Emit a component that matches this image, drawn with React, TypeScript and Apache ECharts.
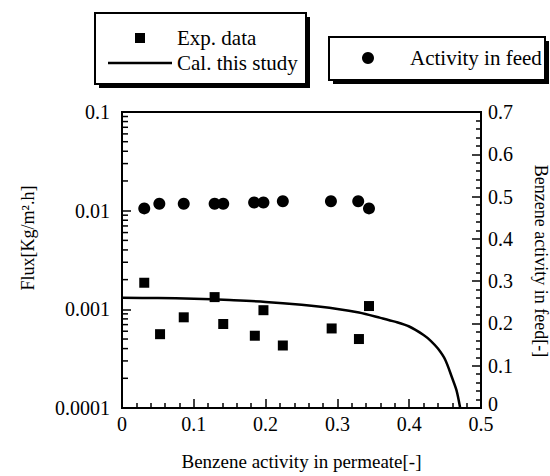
import React, { useEffect, useRef } from "react";
import * as echarts from "echarts";

// Experimental flux (left, log axis)
const expX = [0.031, 0.053, 0.086, 0.129, 0.141, 0.185, 0.197, 0.224, 0.292, 0.33, 0.344];
const expFlux = [0.00186, 0.00056, 0.00083, 0.00133, 0.00071, 0.00054, 0.00098, 0.00043, 0.00064, 0.0005, 0.00108];
// Calculated flux curve
const calX = [0, 0.05, 0.1, 0.15, 0.2, 0.25, 0.3, 0.33, 0.36, 0.38, 0.4, 0.42, 0.43, 0.44, 0.45, 0.46, 0.466, 0.471];
const calFlux = [0.00131, 0.0013, 0.00128, 0.00124, 0.00119, 0.00111, 0.00101, 0.00093, 0.00082, 0.00075, 0.00067, 0.00055, 0.00048, 0.0004, 0.00031, 0.0002, 0.00015, 0.0001];
// Activity in feed (right axis)
const feedX = [0.031, 0.052, 0.086, 0.129, 0.141, 0.184, 0.197, 0.224, 0.291, 0.329, 0.344];
const feedAct = [0.472, 0.483, 0.483, 0.483, 0.483, 0.486, 0.486, 0.489, 0.489, 0.489, 0.472];
// Log-axis minor tick values
const logMinorTicks = [
  0.0002, 0.0003, 0.0004, 0.0005, 0.0006, 0.0007, 0.0008, 0.0009,
  0.002, 0.003, 0.004, 0.005, 0.006, 0.007, 0.008, 0.009,
  0.02, 0.03, 0.04, 0.05, 0.06, 0.07, 0.08, 0.09,
];
const seriesNames = ["Exp. data", "Cal. this study", "Activity in feed"];

const FONT = "Liberation Serif";

export default function App() {
  const ref = useRef<HTMLDivElement>(null);
  useEffect(() => {
    document.body.style.margin = "0";
    const chart = echarts.init(ref.current!, null, { renderer: "svg" });
    const txt = { fontFamily: FONT, color: "#000" };
    const legText = (x: number, y: number, t: string) => ({
      type: "text", z: 5, x, y,
      style: { text: t, fontFamily: FONT, fontSize: 21, fill: "#000", align: "left", verticalAlign: "middle" },
    });
    chart.setOption({
      animation: false,
      backgroundColor: "#fff",
      textStyle: { fontFamily: FONT, color: "#000" },
      grid: { left: 122, right: 69, top: 112, bottom: 55, show: true, borderColor: "#000", borderWidth: 2, backgroundColor: "transparent" },
      graphic: [
        // legend box 1
        { type: "rect", z: 0, shape: { x: 99, y: 17, width: 211, height: 71 }, style: { fill: "#000" } },
        { type: "rect", z: 1, shape: { x: 95, y: 13, width: 211, height: 71 }, style: { fill: "#fff", stroke: "#000", lineWidth: 2 } },
        { type: "rect", z: 5, shape: { x: 135, y: 33, width: 10, height: 10 }, style: { fill: "#000" } },
        legText(177, 38, seriesNames[0]),
        { type: "line", z: 5, shape: { x1: 108, y1: 63, x2: 172, y2: 63 }, style: { stroke: "#000", lineWidth: 2.5 } },
        legText(177, 63, seriesNames[1]),
        // legend box 2
        { type: "rect", z: 0, shape: { x: 333, y: 41, width: 216, height: 43 }, style: { fill: "#000" } },
        { type: "rect", z: 1, shape: { x: 329, y: 37, width: 216, height: 43 }, style: { fill: "#fff", stroke: "#000", lineWidth: 2 } },
        { type: "circle", z: 5, shape: { cx: 368, cy: 58, r: 6 }, style: { fill: "#000" } },
        legText(410, 58, seriesNames[2]),
        // axis titles
        {
          type: "text", z: 5, x: 28, y: 238, rotation: Math.PI / 2,
          style: { text: "Flux[Kg/m\u00B2.h]", fontFamily: FONT, fontSize: 18, fill: "#000", align: "center", verticalAlign: "middle" },
        },
        {
          type: "text", z: 5, x: 541, y: 261, rotation: -Math.PI / 2,
          style: { text: "Benzene activity in feed[-]", fontFamily: FONT, fontSize: 18, fill: "#000", align: "center", verticalAlign: "middle" },
        },
      ],
      xAxis: {
        type: "value", min: 0, max: 0.5, interval: 0.1,
        name: "Benzene activity in permeate[-]", nameLocation: "middle", nameGap: 44,
        nameTextStyle: { ...txt, fontSize: 19 },
        axisLine: { lineStyle: { color: "#000", width: 2 } },
        axisTick: { inside: true, length: 9, lineStyle: { color: "#000", width: 1.5 } },
        minorTick: { show: true, splitNumber: 5, length: 5, lineStyle: { color: "#000", width: 1.5 } },
        axisLabel: { ...txt, fontSize: 20, margin: 8, lineHeight: 16 },
        splitLine: { show: false },
      },
      yAxis: [
        {
          type: "log", logBase: 10, min: 0.0001, max: 0.1, position: "left",
          axisLine: { show: true, lineStyle: { color: "#000", width: 2 } },
          axisTick: { show: true, inside: true, length: 9, lineStyle: { color: "#000", width: 1.5 } },
          axisLabel: { ...txt, fontSize: 20, margin: 12, formatter: (v: number) => String(Number(v.toPrecision(1))) },
          splitLine: { show: false },
          minorTick: { show: false },
        },
        {
          type: "value", min: 0, max: 0.7, interval: 0.1, position: "right",
          axisLine: { show: true, lineStyle: { color: "#000", width: 2 } },
          axisTick: { show: true, inside: true, length: 9, lineStyle: { color: "#000", width: 1.5 } },
          minorTick: { show: true, splitNumber: 5, length: 5, lineStyle: { color: "#000", width: 1.5 } },
          axisLabel: {
            ...txt, fontSize: 20, margin: 7, lineHeight: 14,
            formatter: (v: number) => (v === 0 ? "{z|0}" : String(v)),
            rich: { z: { fontFamily: FONT, fontSize: 20, color: "#000", lineHeight: 14, padding: [0, 0, 8, 0] } },
          },
          splitLine: { show: false },
        },
      ],
      series: [
        {
          name: seriesNames[0], type: "scatter", yAxisIndex: 0, symbol: "rect", symbolSize: 10,
          itemStyle: { color: "#000", opacity: 1 }, data: expX.map((x, i) => [x, expFlux[i]]),
        },
        {
          name: seriesNames[1], type: "line", yAxisIndex: 0, symbol: "none", showSymbol: false,
          smooth: 0.3,
          lineStyle: { color: "#000", width: 2.5 }, itemStyle: { color: "#000" },
          data: calX.map((x, i) => [x, calFlux[i]]),
        },
        {
          name: seriesNames[2], type: "scatter", yAxisIndex: 1, symbol: "circle", symbolSize: 12,
          itemStyle: { color: "#000", opacity: 1 }, data: feedX.map((x, i) => [x, feedAct[i]]),
        },
        {
          name: "logMinor", type: "custom", yAxisIndex: 0, silent: true, clip: false,
          data: logMinorTicks.map((v) => [0, v]),
          renderItem: (params: any, api: any) => {
            const p = api.coord([0, api.value(1)]);
            return {
              type: "line",
              shape: { x1: p[0], y1: p[1], x2: p[0] + 6, y2: p[1] },
              style: { stroke: "#000", lineWidth: 1.5 },
            };
          },
        },
      ],
    });
    return () => chart.dispose();
  }, []);
  return <div ref={ref} style={{ width: 550, height: 476 }} />;
}
